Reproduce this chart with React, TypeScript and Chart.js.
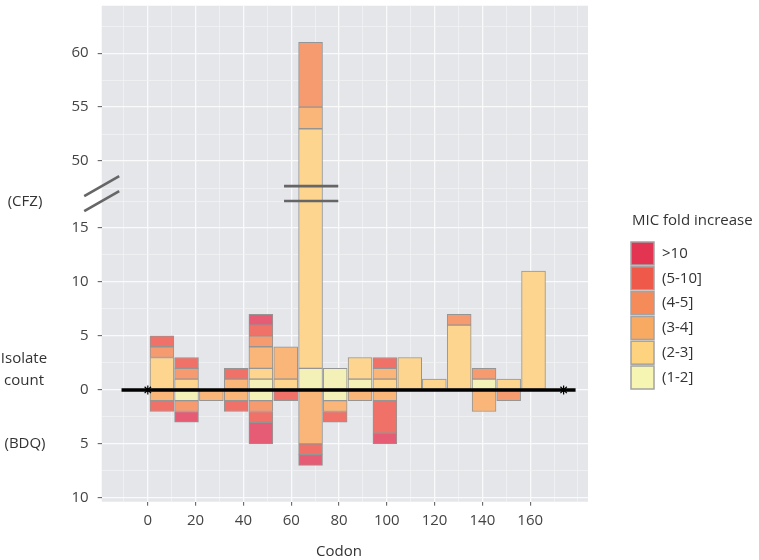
import React, { useEffect, useRef } from 'react';
import { Chart, LinearScale, registerables } from 'chart.js';

// ---------------- data ----------------
// bin centres along the codon axis (bins about 10.4 codons wide)
const binCenters = [5.9, 16.2, 26.6, 37.0, 47.3, 57.7, 68.1, 78.4, 88.8, 99.2, 109.6, 119.9, 130.3, 140.7, 151.0, 161.4];

// MIC fold-increase categories, from the zero line outward
const categories = ['(1-2]', '(2-3]', '(3-4]', '(4-5]', '(5-10]', '>10'];

// CFZ isolate counts (drawn upward)
const cfz_1_2 = [0, 0, 0, 0, 1, 0, 2, 2, 1, 0, 0, 0, 0, 1, 0, 0];
const cfz_2_3 = [3, 1, 0, 0, 1, 1, 51, 0, 2, 1, 3, 1, 6, 0, 1, 11];
const cfz_3_4 = [0, 0, 0, 1, 2, 3, 2, 0, 0, 1, 0, 0, 0, 0, 0, 0];
const cfz_4_5 = [1, 1, 0, 0, 1, 0, 6, 0, 0, 0, 0, 0, 1, 1, 0, 0];
const cfz_5_10 = [1, 1, 0, 1, 1, 0, 0, 0, 0, 1, 0, 0, 0, 0, 0, 0];
const cfz_gt10 = [0, 0, 0, 0, 1, 0, 0, 0, 0, 0, 0, 0, 0, 0, 0, 0];

// BDQ isolate counts (drawn downward)
const bdq_1_2 = [0, 1, 0, 0, 1, 0, 0, 1, 0, 0, 0, 0, 0, 0, 0, 0];
const bdq_2_3 = [0, 0, 0, 0, 0, 0, 0, 0, 0, 0, 0, 0, 0, 0, 0, 0];
const bdq_3_4 = [1, 0, 1, 1, 0, 0, 5, 1, 1, 1, 0, 0, 0, 2, 0, 0];
const bdq_4_5 = [0, 1, 0, 0, 1, 0, 0, 0, 0, 0, 0, 0, 0, 0, 1, 0];
const bdq_5_10 = [1, 0, 0, 1, 1, 1, 1, 1, 0, 3, 0, 0, 0, 0, 0, 0];
const bdq_gt10 = [0, 1, 0, 0, 2, 0, 1, 0, 0, 1, 0, 0, 0, 0, 0, 0];

const cfzSeries = [cfz_1_2, cfz_2_3, cfz_3_4, cfz_4_5, cfz_5_10, cfz_gt10];
const bdqSeries = [bdq_1_2, bdq_2_3, bdq_3_4, bdq_4_5, bdq_5_10, bdq_gt10];

// gene line (codon span) and its end marks
const geneLineX = [-11, 179];
const geneMarksX = [0, 174];

// ticks
const xTickValues = [-10, 0, 10, 20, 30, 40, 50, 60, 70, 80, 90, 100, 110, 120, 130, 140, 150, 160, 170, 180];
const xTickLabels = ['0', '20', '40', '60', '80', '100', '120', '140', '160'];
const yTickValues = [-10, -7.5, -5, -2.5, 0, 2.5, 5, 7.5, 10, 12.5, 15, 17.5, 47.5, 50, 52.5, 55, 57.5, 60, 62.5];
const yTickLabels = ['-10', '-5', '0', '5', '10', '15', '50', '55', '60'];

// axis break
const BREAK_LO = 17.5;
const BREAK_HI = 47.5;
const BREAK_GAP = 28.8;

// ---------------- styles ----------------
const barColors = ['#F3F1B8', '#FDD58F', '#FAB679', '#F69A70', '#F07168', '#E75C75'];
const legendColors = ['#F7F5B2', '#FDD380', '#F8AA63', '#F48B58', '#EF5949', '#E33552'];
const FONT = "'Open Sans', sans-serif";
const TEXT = '#333333';
const TICK_TEXT = '#444444';
const PANEL_BG = '#E4E6EA';

function toDisplay(v: number): number {
  if (v <= BREAK_LO) return v;
  if (v >= BREAK_HI) return v - BREAK_GAP;
  return BREAK_LO + ((v - BREAK_LO) * (BREAK_HI - BREAK_GAP - BREAK_LO)) / (BREAK_HI - BREAK_LO);
}
function fromDisplay(d: number): number {
  const hiD = BREAK_HI - BREAK_GAP;
  if (d <= BREAK_LO) return d;
  if (d >= hiD) return d + BREAK_GAP;
  return BREAK_LO + ((d - BREAK_LO) * (BREAK_HI - BREAK_LO)) / (hiD - BREAK_LO);
}

class BrokenLinearScale extends LinearScale {
  static id = 'brokenLinear';
  static defaults = LinearScale.defaults;
  getPixelForValue(value: any) {
    if (value === null || value === undefined || isNaN(value)) return NaN;
    return super.getPixelForValue(toDisplay(value));
  }
  getValueForPixel(pixel: number) {
    return fromDisplay(super.getValueForPixel(pixel) as number);
  }
}

Chart.register(...registerables, BrokenLinearScale);

const isMajorX = (v: number) => xTickLabels.includes(String(v));
const isMajorY = (v: number) => yTickLabels.includes(String(v));

const decorPlugin = {
  id: 'decor',
  beforeDraw(chart: any) {
    const { ctx, chartArea } = chart;
    ctx.save();
    ctx.fillStyle = PANEL_BG;
    ctx.fillRect(chartArea.left, chartArea.top, chartArea.right - chartArea.left, chartArea.bottom - chartArea.top);
    ctx.restore();
  },
  afterDraw(chart: any) {
    const { ctx, chartArea, scales } = chart;
    const y = scales.y;
    const x = scales.x;
    ctx.save();

    // break marks on the tall bar and on the axis
    const yLo = y.getPixelForValue(BREAK_LO);
    const yHi = y.getPixelForValue(BREAK_HI) - 2;
    ctx.strokeStyle = '#666666';
    ctx.lineWidth = 2.6;
    const x0 = x.getPixelForValue(57);
    const x1 = x.getPixelForValue(79.7);
    [yHi, yLo].forEach((py) => {
      ctx.beginPath();
      ctx.moveTo(x0, py);
      ctx.lineTo(x1, py);
      ctx.stroke();
    });
    const ax = chartArea.left;
    [yHi, yLo].forEach((py) => {
      ctx.beginPath();
      ctx.moveTo(ax - 17.5, py + 10);
      ctx.lineTo(ax + 17.5, py - 10);
      ctx.stroke();
    });

    // texts
    ctx.fillStyle = TEXT;
    ctx.font = `15px ${FONT}`;
    ctx.textAlign = 'center';
    ctx.textBaseline = 'middle';
    ctx.fillText('(CFZ)', 25, 202);
    ctx.fillText('Isolate', 24, 359);
    ctx.fillText('count', 24, 381);
    ctx.fillText('(BDQ)', 25, 444);
    ctx.fillText('Codon', 339, 552);

    // legend
    ctx.textAlign = 'left';
    ctx.fillText('MIC fold increase', 632, 221);
    const n = categories.length;
    for (let i = 0; i < n; i++) {
      const k = n - 1 - i;
      const by = 242 + i * 24.8;
      ctx.fillStyle = legendColors[k];
      ctx.fillRect(631, by, 23, 23);
      ctx.strokeStyle = '#A3A3A3';
      ctx.lineWidth = 1.5;
      ctx.strokeRect(631, by, 23, 23);
      ctx.fillStyle = TEXT;
      ctx.fillText(categories[k], 662, by + 11.5);
    }
    ctx.restore();
  },
};

export default function App() {
  const canvasRef = useRef<HTMLCanvasElement | null>(null);

  useEffect(() => {
    const canvas = canvasRef.current;
    if (!canvas) return;

    const barDatasets: any[] = [];
    cfzSeries.forEach((arr, ci) => {
      barDatasets.push({
        type: 'bar',
        label: `CFZ ${categories[ci]}`,
        data: binCenters.map((bx, i) => ({ x: bx, y: arr[i] === 0 ? null : arr[i] })),
        backgroundColor: barColors[ci],
        borderColor: '#959595',
        borderWidth: 1,
        borderSkipped: false,
        order: 2,
      });
    });
    bdqSeries.forEach((arr, ci) => {
      barDatasets.push({
        type: 'bar',
        label: `BDQ ${categories[ci]}`,
        data: binCenters.map((bx, i) => ({ x: bx, y: arr[i] === 0 ? null : -arr[i] })),
        backgroundColor: barColors[ci],
        borderColor: '#959595',
        borderWidth: 1,
        borderSkipped: false,
        order: 2,
      });
    });

    const chart = new Chart(canvas, {
      type: 'bar',
      data: {
        datasets: [
          ...barDatasets,
          {
            type: 'line',
            label: 'gene',
            data: geneLineX.map((gx) => ({ x: gx, y: 0 })),
            borderColor: '#000000',
            borderWidth: 3.5,
            pointRadius: 0,
            stack: 'geneLine',
            order: 1,
          },
          {
            type: 'line',
            label: 'ends',
            data: geneMarksX.map((gx) => ({ x: gx, y: 0 })),
            showLine: false,
            pointStyle: 'star',
            pointRadius: 4.5,
            borderColor: '#000000',
            backgroundColor: '#000000',
            pointBorderWidth: 1.2,
            stack: 'geneMarks',
            order: 0,
          },
        ] as any,
      },
      options: {
        responsive: true,
        maintainAspectRatio: false,
        animation: false,
        events: [],
        layout: { padding: { top: 3, right: 171, bottom: 0, left: 0 } },
        datasets: { bar: { barPercentage: 1, categoryPercentage: 1 } },
        plugins: { legend: { display: false }, tooltip: { enabled: false }, title: { display: false } },
        scales: {
          x: {
            type: 'linear',
            min: -19.3,
            max: 184.2,
            offset: false,
            stacked: true,
            bounds: 'data',
            afterBuildTicks: (s: any) => {
              s.ticks = xTickValues.map((v) => ({ value: v }));
            },
            afterFit: (s: any) => {
              s.height = 58.3;
              s.paddingLeft = 0;
              s.paddingRight = 0;
            },
            ticks: {
              autoSkip: false,
              maxRotation: 0,
              padding: 6,
              color: TICK_TEXT,
              font: { family: FONT, size: 15 },
              callback: (v: any) => (isMajorX(v) ? String(v) : ''),
            },
            grid: {
              offset: false,
              color: (c: any) => (c.tick && isMajorX(c.tick.value) ? '#FAFAFB' : '#F1F2F4'),
              lineWidth: (c: any) => (c.tick && isMajorX(c.tick.value) ? 1.3 : 0.8),
              tickLength: 4,
              tickWidth: 1,
              tickColor: (c: any) => (c.tick && isMajorX(c.tick.value) ? '#555555' : 'rgba(0,0,0,0)'),
            },
            border: { display: false },
          },
          y: {
            type: 'brokenLinear' as any,
            min: -10.36,
            max: 35.6,
            stacked: true,
            bounds: 'data',
            afterBuildTicks: (s: any) => {
              s.ticks = yTickValues.map((v) => ({ value: v }));
            },
            afterFit: (s: any) => {
              s.width = 101.7;
              s.paddingTop = 0;
              s.paddingBottom = 0;
            },
            ticks: {
              autoSkip: false,
              padding: 9,
              color: TICK_TEXT,
              font: { family: FONT, size: 15 },
              callback: (v: any) => (isMajorY(v) ? String(Math.abs(v)) : ''),
            },
            grid: {
              color: (c: any) => (c.tick && isMajorY(c.tick.value) ? '#FAFAFB' : '#F1F2F4'),
              lineWidth: (c: any) => (c.tick && isMajorY(c.tick.value) ? 1.3 : 0.8),
              tickLength: 4,
              tickWidth: 1,
              tickColor: (c: any) => (c.tick && isMajorY(c.tick.value) ? '#555555' : 'rgba(0,0,0,0)'),
            },
            border: { display: false },
          },
        },
      } as any,
      plugins: [decorPlugin],
    });

    return () => {
      chart.destroy();
    };
  }, []);

  return (
    <div style={{ position: 'absolute', left: 0, top: 0, width: 759, height: 560, background: '#ffffff' }}>
      <canvas ref={canvasRef} />
    </div>
  );
}
